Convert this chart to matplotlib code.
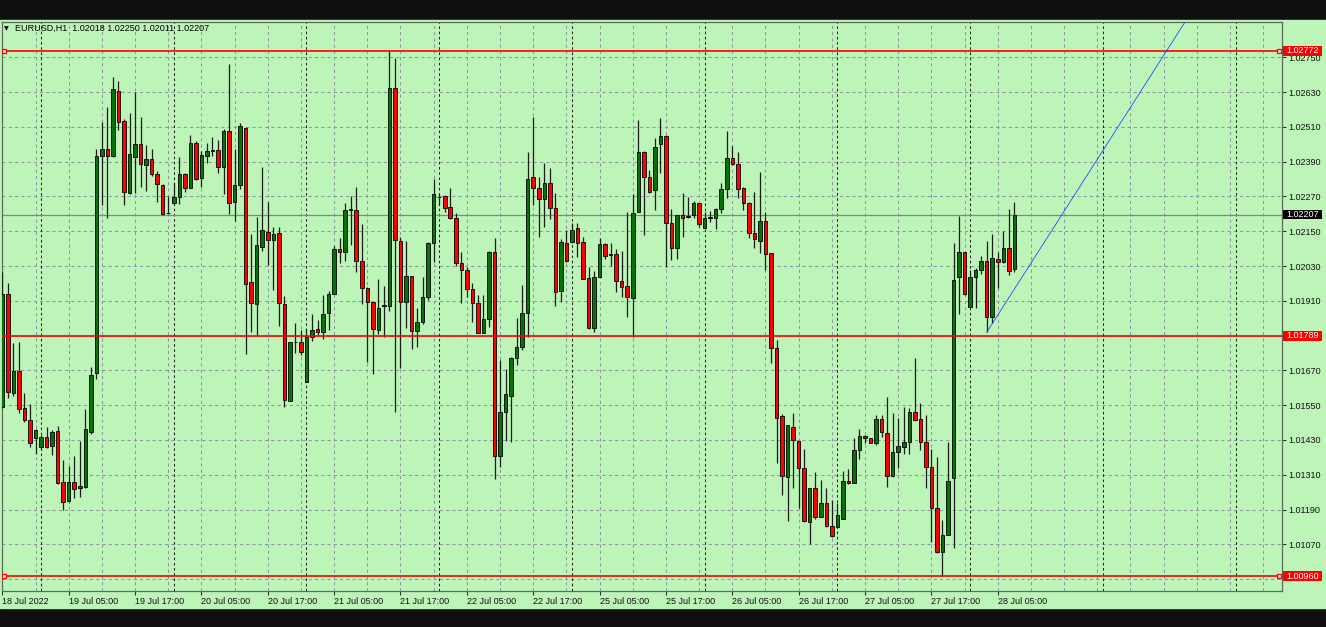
import numpy as np
import matplotlib.pyplot as plt
from matplotlib.patches import Rectangle
from matplotlib.transforms import blended_transform_factory

plt.rcParams['font.family'] = ['Liberation Sans', 'DejaVu Sans']

symbol = "EURUSD,H1"
last_ohlc = [1.02018, 1.02250, 1.02011, 1.02207]

# hourly EURUSD bars, 18 Jul 17:00 .. 28 Jul 08:00
opens = [
    1.01545, 1.01932, 1.01593, 1.01668, 1.01540, 1.01499, 1.01438, 1.01404, 1.01440, 1.01410,
    1.01461, 1.01284, 1.01219, 1.01286, 1.01263, 1.01269, 1.01458, 1.01660, 1.02410, 1.02434,
    1.02410, 1.02634, 1.02530, 1.02281, 1.02407, 1.02450, 1.02378, 1.02399, 1.02349, 1.02309,
    1.02212, 1.02249, 1.02267, 1.02347, 1.02300, 1.02453, 1.02332, 1.02411, 1.02428, 1.02429,
    1.02373, 1.02496, 1.02250, 1.02309, 1.02507, 1.01974, 1.01898, 1.02097, 1.02148, 1.02120,
    1.02143, 1.01899, 1.01565, 1.01767, 1.01767, 1.01631, 1.01786, 1.01812, 1.01801, 1.01869,
    1.01932, 1.02089, 1.02079, 1.02223, 1.02223, 1.02048, 1.01953, 1.01907, 1.01809, 1.01893,
    1.01893, 1.02643, 1.02116, 1.01907, 1.01995, 1.01806, 1.01838, 1.01922, 1.02108, 1.02269,
    1.02272, 1.02232, 1.02194, 1.02039, 1.02016, 1.01950, 1.01901, 1.01800, 1.01846, 1.02077,
    1.01376, 1.01525, 1.01583, 1.01711, 1.01752, 1.01867, 1.02336, 1.02298, 1.02260, 1.02315,
    1.02229, 1.01945, 1.02108, 1.02114, 1.02160, 1.02114, 1.01987, 1.01815, 1.01991, 1.02105,
    1.02068, 1.02070, 1.01979, 1.01961, 1.01918, 1.02217, 1.02422, 1.02338, 1.02292, 1.02450,
    1.02480, 1.02177, 1.02093, 1.02206, 1.02200, 1.02206, 1.02249, 1.02162, 1.02197, 1.02194,
    1.02226, 1.02295, 1.02404, 1.02382, 1.02298, 1.02249, 1.02143, 1.02117, 1.02185, 1.02074,
    1.01748, 1.01512, 1.01303, 1.01476, 1.01426, 1.01332, 1.01148, 1.01263, 1.01165, 1.01211,
    1.01133, 1.01128, 1.01159, 1.01288, 1.01280, 1.01395, 1.01444, 1.01435, 1.01421, 1.01502,
    1.01453, 1.01306, 1.01389, 1.01404, 1.01422, 1.01527, 1.01502, 1.01422, 1.01335, 1.01194,
    1.01044, 1.01102, 1.01297, 1.01993, 1.02077, 1.01890, 1.01993, 1.02016, 1.02047, 1.01853,
    1.02053, 1.02045, 1.02091, 1.02018,
]
highs = [
    1.02008, 1.01973, 1.01766, 1.01768, 1.01591, 1.01554, 1.01467, 1.01447, 1.01473, 1.01464,
    1.01478, 1.01361, 1.01341, 1.01375, 1.01426, 1.01536, 1.01683, 1.02433, 1.02528, 1.02580,
    1.02683, 1.02668, 1.02537, 1.02559, 1.02631, 1.02543, 1.02446, 1.02435, 1.02358, 1.02313,
    1.02272, 1.02315, 1.02407, 1.02352, 1.02482, 1.02462, 1.02428, 1.02456, 1.02474, 1.02465,
    1.02503, 1.02727, 1.02435, 1.02522, 1.02509, 1.02139, 1.02200, 1.02373, 1.02252, 1.02163,
    1.02163, 1.01927, 1.01767, 1.01832, 1.01809, 1.01812, 1.01864, 1.01844, 1.01930, 1.01945,
    1.02099, 1.02125, 1.02249, 1.02273, 1.02303, 1.02175, 1.01959, 1.01907, 1.01985, 1.01961,
    1.02772, 1.02746, 1.02131, 1.02116, 1.01995, 1.01884, 1.01993, 1.02114, 1.02330, 1.02278,
    1.02275, 1.02300, 1.02212, 1.02079, 1.02025, 1.01970, 1.01930, 1.01930, 1.02083, 1.02125,
    1.01706, 1.01675, 1.01717, 1.01849, 1.01964, 1.02422, 1.02545, 1.02336, 1.02387, 1.02367,
    1.02281, 1.02123, 1.02154, 1.02177, 1.02180, 1.02131, 1.02028, 1.02013, 1.02125, 1.02108,
    1.02108, 1.02088, 1.02083, 1.02217, 1.02278, 1.02534, 1.02427, 1.02361, 1.02473, 1.02539,
    1.02482, 1.02226, 1.02206, 1.02281, 1.02269, 1.02254, 1.02249, 1.02217, 1.02220, 1.02229,
    1.02318, 1.02496, 1.02444, 1.02424, 1.02304, 1.02252, 1.02286, 1.02356, 1.02217, 1.02074,
    1.01775, 1.01518, 1.01481, 1.01522, 1.01426, 1.01399, 1.01263, 1.01321, 1.01292, 1.01265,
    1.01223, 1.01211, 1.01324, 1.01330, 1.01435, 1.01468, 1.01447, 1.01435, 1.01516, 1.01516,
    1.01579, 1.01522, 1.01504, 1.01542, 1.01539, 1.01714, 1.01558, 1.01516, 1.01399, 1.01372,
    1.01154, 1.01422, 1.02111, 1.02202, 1.02077, 1.02016, 1.02022, 1.02065, 1.02116, 1.02139,
    1.02079, 1.02151, 1.02226, 1.02250,
]
lows = [
    1.01539, 1.01573, 1.01582, 1.01522, 1.01493, 1.01404, 1.01380, 1.01398, 1.01401, 1.01378,
    1.01278, 1.01188, 1.01217, 1.01231, 1.01234, 1.01263, 1.01449, 1.01640, 1.02240, 1.02194,
    1.02407, 1.02499, 1.02240, 1.02277, 1.02281, 1.02304, 1.02289, 1.02341, 1.02252, 1.02206,
    1.02209, 1.02240, 1.02243, 1.02286, 1.02300, 1.02327, 1.02304, 1.02387, 1.02411, 1.02350,
    1.02278, 1.02208, 1.02185, 1.02295, 1.01725, 1.01801, 1.01792, 1.02083, 1.02033, 1.01947,
    1.01824, 1.01545, 1.01565, 1.01729, 1.01723, 1.01631, 1.01772, 1.01792, 1.01778, 1.01809,
    1.01932, 1.02039, 1.02048, 1.02102, 1.02008, 1.01898, 1.01700, 1.01656, 1.01794, 1.01786,
    1.01876, 1.01525, 1.01677, 1.01815, 1.01742, 1.01752, 1.01829, 1.01913, 1.02045, 1.02240,
    1.02217, 1.02192, 1.02030, 1.01901, 1.01922, 1.01838, 1.01798, 1.01798, 1.01821, 1.01294,
    1.01338, 1.01426, 1.01424, 1.01690, 1.01740, 1.01786, 1.02240, 1.02131, 1.02166, 1.02192,
    1.01892, 1.01907, 1.02045, 1.02110, 1.02062, 1.01985, 1.01812, 1.01803, 1.01991, 1.02053,
    1.02030, 1.01942, 1.01924, 1.01853, 1.01786, 1.02215, 1.02137, 1.02283, 1.02223, 1.02350,
    1.02028, 1.02051, 1.02054, 1.02131, 1.02197, 1.02197, 1.02166, 1.02162, 1.02183, 1.02157,
    1.02212, 1.02266, 1.02378, 1.02263, 1.02223, 1.02125, 1.02091, 1.02076, 1.02016, 1.01694,
    1.01349, 1.01240, 1.01151, 1.01265, 1.01194, 1.01148, 1.01070, 1.01157, 1.01163, 1.01131,
    1.01094, 1.01128, 1.01159, 1.01278, 1.01280, 1.01363, 1.01421, 1.01418, 1.01412, 1.01439,
    1.01266, 1.01303, 1.01334, 1.01380, 1.01380, 1.01495, 1.01397, 1.01265, 1.01079, 1.01039,
    1.00960, 1.01102, 1.01056, 1.01863, 1.01930, 1.01890, 1.01884, 1.02001, 1.01801, 1.01832,
    1.01953, 1.02039, 1.01999, 1.02011,
]
closes = [
    1.01932, 1.01596, 1.01668, 1.01536, 1.01499, 1.01421, 1.01464, 1.01440, 1.01407, 1.01456,
    1.01280, 1.01217, 1.01286, 1.01260, 1.01272, 1.01467, 1.01654, 1.02410, 1.02434, 1.02410,
    1.02640, 1.02528, 1.02286, 1.02415, 1.02450, 1.02382, 1.02399, 1.02349, 1.02312, 1.02209,
    1.02213, 1.02268, 1.02347, 1.02298, 1.02453, 1.02331, 1.02412, 1.02426, 1.02430, 1.02370,
    1.02496, 1.02249, 1.02309, 1.02513, 1.01969, 1.01901, 1.02102, 1.02154, 1.02120, 1.02140,
    1.01901, 1.01568, 1.01767, 1.01767, 1.01734, 1.01786, 1.01809, 1.01801, 1.01864, 1.01933,
    1.02089, 1.02079, 1.02223, 1.02223, 1.02048, 1.01953, 1.01905, 1.01812, 1.01884, 1.01893,
    1.02643, 1.02120, 1.01907, 1.01995, 1.01806, 1.01838, 1.01922, 1.02108, 1.02278, 1.02267,
    1.02231, 1.02194, 1.02039, 1.02016, 1.01950, 1.01901, 1.01800, 1.01846, 1.02077, 1.01375,
    1.01525, 1.01587, 1.01711, 1.01752, 1.01867, 1.02329, 1.02298, 1.02260, 1.02315, 1.02229,
    1.01942, 1.02112, 1.02047, 1.02154, 1.02111, 1.01985, 1.01815, 1.01991, 1.02105, 1.02065,
    1.02068, 1.01978, 1.01959, 1.01922, 1.02214, 1.02422, 1.02336, 1.02284, 1.02442, 1.02480,
    1.02177, 1.02093, 1.02206, 1.02194, 1.02200, 1.02249, 1.02174, 1.02194, 1.02197, 1.02226,
    1.02295, 1.02404, 1.02381, 1.02296, 1.02249, 1.02143, 1.02122, 1.02185, 1.02070, 1.01748,
    1.01507, 1.01307, 1.01481, 1.01430, 1.01334, 1.01150, 1.01263, 1.01163, 1.01211, 1.01134,
    1.01099, 1.01171, 1.01288, 1.01280, 1.01395, 1.01444, 1.01435, 1.01421, 1.01502, 1.01458,
    1.01306, 1.01389, 1.01410, 1.01422, 1.01527, 1.01499, 1.01422, 1.01338, 1.01194, 1.01042,
    1.01102, 1.01289, 1.01982, 1.02077, 1.01932, 1.01993, 1.02016, 1.02047, 1.01853, 1.02056,
    1.02045, 1.02091, 1.02014, 1.02207,
]

# horizontal lines drawn on the chart
red_levels = [1.02772, 1.01789, 1.00960]
boxed_levels = [1.02772, 1.00960]   # the ones with little square handles

# trend line anchors (bar index, price)
trend_p1 = (178, 1.01801)
trend_p2 = (185, 1.02010)

price_grid = [1.02750, 1.02630, 1.02510, 1.02390, 1.02270, 1.02150, 1.02030, 1.01910,
              1.01790, 1.01670, 1.01550, 1.01430, 1.01310, 1.01190, 1.01070, 1.00950]
price_ticks = [1.02750, 1.02630, 1.02510, 1.02390, 1.02270, 1.02150, 1.02030, 1.01910,
               1.01670, 1.01550, 1.01430, 1.01310, 1.01190, 1.01070]

time_ticks = [0, 12, 24, 36, 48, 60, 72, 84, 96, 108, 120, 132, 144, 156, 168, 180]
time_labels = ["18 Jul 2022", "19 Jul 05:00", "19 Jul 17:00", "20 Jul 05:00",
               "20 Jul 17:00", "21 Jul 05:00", "21 Jul 17:00", "22 Jul 05:00",
               "22 Jul 17:00", "25 Jul 05:00", "25 Jul 17:00", "26 Jul 05:00",
               "26 Jul 17:00", "27 Jul 05:00", "27 Jul 17:00", "28 Jul 05:00"]
day_starts = [7, 31, 55, 79, 103, 127, 151, 175, 199, 223]

BG = '#bdf5b9'
GRID = '#8c96a0'
BULL = '#077207'
BEAR = '#ff0000'
FS = 6.5

W, H = 1326, 627
fig = plt.figure(figsize=(W / 100, H / 100), dpi=100, facecolor='#0f0f0f')
fig.patches.append(Rectangle((0, 1 - 608 / H), 1, (608 - 19.5) / H,
                             transform=fig.transFigure, color=BG, zorder=-10))

ax = fig.add_axes([1.5 / W, 1 - 591 / H, (1282 - 1.5) / W, (591 - 21.7) / H])
ax.set_facecolor(BG)
ax.set_xlim(-0.15, 231.4)
ax.set_ylim(1.009089, 1.028728)

# grid
for p in price_grid:
    ax.axhline(p, color=GRID, lw=0.75, ls=(0, (3, 3)), zorder=1)
for b in range(6, 232, 6):
    ax.axvline(b, color=GRID, lw=0.75, ls=(0, (3, 3)), zorder=1)
for b in day_starts:
    ax.axvline(b, color='#222222', lw=0.75, ls=(0, (2.5, 2.5)), zorder=1)

# candles
o = np.array(opens)
h = np.array(highs)
l = np.array(lows)
c = np.array(closes)
x = np.arange(len(o))
ax.vlines(x, l, h, color='#1c1c1c', lw=0.9, zorder=3)
up = c >= o
body = np.maximum(np.abs(c - o), 0.00002)
ax.bar(x[up], body[up], bottom=np.minimum(o, c)[up], width=0.64,
       color=BULL, edgecolor='black', linewidth=0.6, zorder=4)
ax.bar(x[~up], body[~up], bottom=np.minimum(o, c)[~up], width=0.64,
       color=BEAR, edgecolor='black', linewidth=0.6, zorder=4)

# horizontal levels
for p in red_levels:
    ax.axhline(p, color='#ff0000', lw=1.2, zorder=5)
bt = blended_transform_factory(ax.transAxes, ax.transData)
for p in boxed_levels:
    ax.plot([0.0016, 0.9978], [p, p], ls='none', marker='s', ms=3, mfc='#ffe0e0',
            mec='#ff0000', mew=0.9, transform=bt, zorder=6)
ax.axhline(last_ohlc[3], color='#7d8a7d', lw=0.9, zorder=2)

# trend line
slope = (trend_p2[1] - trend_p1[1]) / (trend_p2[0] - trend_p1[0])
tx = np.array([trend_p1[0], 240])
ax.plot(tx, trend_p1[1] + (tx - trend_p1[0]) * slope, color='#1a3cff', lw=0.55, zorder=6)

# axes styling
for s in ax.spines.values():
    s.set_color('#5d6b5d')
    s.set_linewidth(0.9)
ax.yaxis.tick_right()
ax.set_yticks(price_ticks)
ax.set_yticklabels([f"{p:.5f}" for p in price_ticks])
ax.tick_params(axis='y', direction='out', length=3, width=0.8, color='#333333',
               pad=1.2, labelsize=FS, labelcolor='#111111')
ax.set_xticks(time_ticks)
ax.set_xticklabels(time_labels)
for t in ax.get_xticklabels():
    t.set_horizontalalignment('left')
ax.tick_params(axis='x', direction='out', length=3, width=0.8, color='#333333',
               pad=1.2, labelsize=FS, labelcolor='#111111')

# price tags on the right scale
def tag(p, face):
    ax.add_patch(Rectangle((1.0008, p - 0.000165), 0.0308, 0.00033, transform=bt,
                           facecolor=face, edgecolor='none', clip_on=False, zorder=10))
    ax.text(1.0030, p, f"{p:.5f}", transform=bt, color='white', fontsize=FS,
            va='center', ha='left', clip_on=False, zorder=11)

for p in red_levels:
    tag(p, '#ff0000')
tag(last_ohlc[3], '#000000')

# header
fig.text(4 / W, 1 - 28.5 / H, "\u25bc", fontsize=4.5, color='black', va='center',
         family=['DejaVu Sans'])
fig.text(15 / W, 1 - 28.5 / H,
         symbol + "  " + " ".join(f"{v:.5f}" for v in last_ohlc),
         fontsize=FS, color='black', va='center')

fig.savefig('out.png', dpi=100, facecolor=fig.get_facecolor())
